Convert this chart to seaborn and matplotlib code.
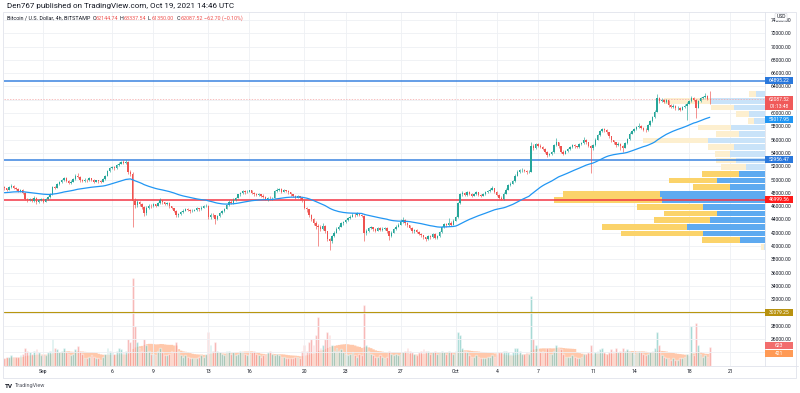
import numpy as np
import pandas as pd
import seaborn as sns
import matplotlib.pyplot as plt
from matplotlib.patches import Rectangle

# BTC/USD 4h candles (Bitstamp), Aug 29 04:00 -> Oct 19 12:00
first_open = 48900
closes = [
    48700, 48500, 48900, 49100, 48800,                    # Aug 29
    48600, 48300, 48500, 48000, 47100, 46950,             # Aug 30
    47100, 46800, 47300, 46600, 46900, 47100,             # Aug 31
    46700, 47100, 47400, 47800, 48900, 48800,             # Sep 1
    49300, 49700, 49900, 50300, 49800, 49500,
    49700, 50100, 50600, 50400, 49900, 49800,
    50000, 49900, 50200, 50000, 49700, 49900,
    49800, 49700, 50100, 50600, 51300, 51800,             # Sep 5
    51900, 51700, 52200, 52400, 52600, 52500,
    52700, 51200, 50900, 46800, 46200, 46600,             # Sep 7
    46300, 45900, 44900, 45800, 46100, 46000,
    46300, 46100, 46500, 46900, 46600, 46400,
    46500, 46000, 45700, 45300, 44600, 44800,             # Sep 10
    45100, 45300, 45600, 45400, 45200, 45300,
    45400, 45700, 45500, 45800, 46000, 46100,
    44300, 44700, 44600, 44000, 44500, 44900,             # Sep 13
    45200, 45600, 46200, 46700, 46500, 47000,
    47300, 47800, 48000, 48300, 48100, 48200,             # Sep 15
    48400, 48000, 47800, 47700, 47800, 47600,
    47400, 47100, 47300, 47200, 47300, 48300,
    48500, 48600, 48200, 48400, 48300, 48100,
    47800, 47600, 47300, 47500, 47250, 46900,
    45700, 45500, 44600, 44000, 43500, 43000,             # Sep 20
    42800, 42600, 43000, 42200, 41000, 40700,
    41500, 42000, 42600, 42900, 43400, 43600,
    43900, 44200, 44400, 44700, 44600, 44900,
    44700, 44500, 41900, 42300, 42700, 42800,             # Sep 24
    42500, 42300, 42700, 42400, 42600, 42700,
    42200, 41500, 42000, 42500, 42900, 43200,
    43600, 43900, 43400, 43100, 42700, 42200,
    42400, 42100, 41800, 41600, 41300, 41000,
    41500, 41300, 41800, 41200, 41500, 42100,
    42800, 43300, 43100, 43500, 43200, 43800,             # Sep 30
    44300, 46500, 47800, 48000, 47700, 48100,             # Oct 1
    47900, 47600, 47800, 48100, 47700, 47600,
    47800, 48100, 48300, 48500, 48700, 48200,
    47700, 47300, 47100, 47900, 48500, 49200,
    49400, 49800, 50600, 51200, 51400, 51500,             # Oct 5
    51300, 51100, 51200, 55000, 54700, 55300,
    55100, 54900, 54600, 54200, 53700, 53800,
    54100, 55200, 55600, 55000, 54200, 53900,
    54300, 54600, 54900, 55200, 55000, 54900,
    55300, 55500, 56000, 55600, 55100, 54700,             # Oct 10
    55200, 56000, 56700, 57300, 57600, 57400,
    57100, 56500, 55900, 55600, 55200, 55400,
    55100, 54800, 55500, 56100, 56900, 57300,
    57600, 57900, 58100, 57800, 57500, 57400,
    58200, 58800, 59400, 60200, 62300, 61800,             # Oct 15
    62000, 61700, 61900, 61200, 60900, 61100,
    60700, 60800, 60500, 60900, 61100, 61400,
    61800, 62300, 62000, 60800, 61800, 62200,
    62400, 62500, 62144.74, 62087.52,                      # Oct 19
]
highs = [
    49000, 48800, 49050, 49300, 49200,
    48950, 48700, 48650, 48600, 48100, 47300,
    47300, 47200, 47500, 47400, 47100, 47300,
    47200, 47200, 47600, 48000, 49000, 49100,
    49500, 49800, 50100, 50450, 50400, 49900,
    49900, 50300, 50800, 51000, 50500, 50100,
    50200, 50100, 50400, 50300, 50100, 50000,
    50000, 49900, 50200, 50700, 51500, 51900,
    52100, 52000, 52400, 52600, 52800, 52900,
    52900, 52800, 51400, 51100, 47300, 46900,
    46800, 46500, 46100, 46000, 46300, 46300,
    46500, 46400, 46700, 47300, 47000, 46700,
    46700, 46600, 46100, 45800, 45400, 45000,
    45300, 45500, 45800, 45700, 45500, 45500,
    45600, 45900, 45800, 46000, 46200, 46400,
    46200, 44900, 44900, 44700, 44700, 45100,
    45400, 45800, 46400, 46900, 46900, 47200,
    47400, 47900, 48200, 48500, 48400, 48400,
    48500, 48500, 48200, 48000, 48000, 47900,
    47800, 47500, 47400, 47500, 47400, 48400,
    48700, 48800, 48700, 48600, 48500, 48400,
    48200, 47900, 47700, 47700, 47600, 47300,
    47000, 45900, 45600, 44800, 44200, 43700,
    43300, 43100, 43400, 43100, 42300, 41200,
    41700, 42200, 42800, 43100, 43600, 43800,
    44100, 44400, 44600, 44900, 44900, 45100,
    45000, 44800, 44600, 42600, 42900, 43000,
    42900, 42700, 42900, 42800, 42800, 42900,
    42800, 42300, 42200, 42700, 43100, 43400,
    44000, 44300, 44000, 43600, 43200, 42800,
    42600, 42500, 42200, 42000, 41700, 41400,
    41700, 41600, 42000, 41900, 41700, 42300,
    43000, 43500, 43500, 44200, 43700, 44000,
    44500, 46700, 48000, 48300, 48200, 48300,
    48300, 48000, 48000, 48300, 48200, 47900,
    48000, 48300, 48500, 48700, 49100, 48800,
    48300, 47800, 47500, 48100, 48700, 49400,
    49600, 50000, 50800, 51400, 51600, 51700,
    51600, 51400, 51400, 55700, 55300, 55500,
    55500, 55300, 55000, 54700, 54300, 54000,
    54300, 55400, 56200, 55700, 55100, 54400,
    54500, 54800, 55100, 55400, 55300, 55100,
    55500, 55700, 56400, 56100, 55700, 55200,
    55400, 56200, 56900, 57500, 57800, 57700,
    57600, 57200, 56600, 56000, 55700, 55600,
    55500, 55200, 55700, 56300, 57100, 57500,
    57800, 58100, 58500, 58200, 57900, 57700,
    58400, 59000, 59600, 60400, 62850, 62400,
    62300, 62100, 62100, 62000, 61400, 61300,
    61200, 61000, 60900, 61100, 61300, 61600,
    62000, 62500, 62400, 62100, 62000, 62400,
    62600, 62970, 62700, 63337.54,
]
lows = [
    48500, 48300, 48400, 48800, 48650,
    48450, 48100, 48200, 47900, 46900, 46700,
    46800, 46600, 46700, 46400, 46500, 46800,
    46500, 46600, 47000, 47300, 47700, 48600,
    48700, 49200, 49500, 49800, 49600, 49300,
    49400, 49600, 50000, 50200, 49700, 49600,
    49700, 49700, 49800, 49800, 49500, 49600,
    49500, 49500, 49600, 50000, 50500, 51200,
    51600, 51500, 51600, 52100, 52300, 52300,
    52300, 50900, 50500, 42800, 45800, 45900,
    46000, 45600, 44500, 44700, 45600, 45800,
    45900, 45900, 46000, 46400, 46400, 46200,
    46200, 45800, 45500, 45100, 44300, 44400,
    44600, 45000, 45200, 45200, 45000, 45100,
    45200, 45300, 45300, 45400, 45700, 45900,
    44000, 44100, 44300, 43300, 43900, 44400,
    44800, 45100, 45500, 46100, 46300, 46400,
    46800, 47200, 47600, 47900, 47900, 48000,
    48100, 47900, 47600, 47500, 47500, 47400,
    47200, 46900, 46800, 47000, 47000, 47200,
    48200, 48300, 48000, 48100, 48100, 47900,
    47600, 47400, 47100, 47200, 47000, 46700,
    45500, 45100, 44300, 43700, 43100, 42600,
    40000, 42300, 42400, 41900, 40700, 39400,
    40500, 41300, 41900, 42400, 42800, 43200,
    43500, 43800, 44000, 44300, 44400, 44500,
    44500, 44300, 40700, 41600, 42100, 42500,
    42300, 42100, 42200, 42200, 42300, 42400,
    42000, 40900, 41300, 41900, 42400, 42800,
    43100, 43500, 43200, 42900, 42500, 42000,
    42000, 41900, 41600, 41400, 41100, 40800,
    40900, 41100, 41200, 41000, 41100, 41400,
    42000, 42700, 42900, 43000, 43000, 43100,
    43700, 44200, 46400, 47600, 47500, 47600,
    47700, 47400, 47500, 47700, 47500, 47400,
    47500, 47700, 48000, 48200, 48400, 48000,
    47500, 47100, 46900, 47000, 47800, 48400,
    49100, 49300, 49700, 50500, 51000, 51200,
    51100, 50900, 51000, 51100, 54400, 54600,
    54900, 54700, 54400, 54000, 53400, 53500,
    53700, 54000, 55100, 54800, 54000, 53700,
    53800, 54200, 54500, 54800, 54800, 54700,
    54800, 55200, 55400, 55400, 54900, 50950,
    54500, 55100, 55900, 56600, 57200, 57200,
    56900, 56300, 55700, 55300, 54900, 55000,
    54500, 54200, 54700, 55400, 56000, 56800,
    57200, 57500, 57800, 57600, 57300, 57200,
    57300, 58100, 58700, 59300, 60100, 61500,
    61700, 61500, 61500, 60900, 60700, 60800,
    60500, 60500, 60300, 60400, 60700, 58950,
    61300, 61700, 61800, 59200, 60700, 61700,
    62100, 62300, 62000, 61350,
]
volumes = [
    250, 300, 280, 350, 300,
    300, 280, 350, 400, 600, 500,
    450, 400, 500, 550, 450, 350,
    400, 350, 450, 500, 900, 600,
    550, 450, 500, 600, 450, 400,
    350, 400, 550, 650, 500, 400,
    250, 250, 300, 350, 300, 250,
    250, 200, 300, 400, 600, 500,
    450, 400, 500, 600, 550, 450,
    500, 900, 800, 2900, 1300, 800,
    600, 500, 900, 700, 500, 400,
    400, 350, 500, 600, 450, 350,
    350, 400, 500, 450, 800, 500,
    350, 300, 350, 300, 250, 250,
    250, 250, 300, 350, 300, 400,
    1100, 700, 500, 800, 500, 450,
    400, 350, 500, 500, 400, 450,
    350, 400, 500, 450, 400, 350,
    400, 450, 500, 400, 350, 300,
    350, 400, 450, 500, 400, 350,
    400, 350, 300, 300, 250, 250,
    250, 250, 300, 300, 250, 500,
    700, 500, 800, 900, 700, 1000,
    1600, 600, 700, 900, 1100, 1000,
    700, 500, 600, 500, 550, 450,
    400, 350, 400, 450, 350, 300,
    400, 350, 2000, 700, 500, 400,
    350, 300, 300, 350, 300, 250,
    300, 500, 400, 350, 400, 350,
    400, 450, 500, 600, 500, 450,
    400, 350, 450, 500, 550, 500,
    500, 400, 450, 500, 400, 450,
    500, 450, 400, 500, 450, 400,
    500, 1100, 1000, 600, 500, 450,
    350, 300, 300, 350, 300, 250,
    250, 250, 300, 300, 350, 300,
    400, 450, 450, 500, 500, 450,
    400, 450, 600, 600, 500, 400,
    400, 450, 400, 2300, 900, 700,
    500, 450, 500, 450, 600, 400,
    400, 500, 700, 600, 550, 400,
    300, 300, 300, 350, 300, 250,
    250, 300, 400, 400, 450, 700,
    400, 450, 500, 550, 600, 450,
    400, 450, 550, 500, 600, 450,
    500, 600, 500, 550, 500, 450,
    400, 450, 500, 450, 400, 350,
    400, 450, 500, 600, 1100, 700,
    350, 300, 250, 250, 200, 250,
    200, 200, 250, 250, 300, 400,
    350, 1300, 350, 1400, 700, 400,
    300, 350, 300, 623,
]

# date axis: candle index of each labelled day
day_ticks = [17, 47, 65, 89, 107, 131, 149, 173, 197, 215, 233, 257, 275, 299, 317]
day_labels = ['Sep', '6', '9', '13', '16', '20', '23', '27', 'Oct', '4', '7', '11', '14', '18', '21']

# drawn levels and right-hand labels
blue_levels = [64895.22, 52956.47]
red_level = 46999.56
gold_level = 30079.25
ema_label = 59017.95
ema_start = 48000      # moving average value at the left edge of the chart
vol_label = 623
vol_ma_label = 421
countdown = '01:13:48'
price_ticks = list(range(24000, 76000, 2000))

# visible range volume profile, 24 rows from bottom to top (relative volume)
vp_down = [3, 38, 82, 85, 56, 53, 66, 108, 97, 37, 48, 37,
           25, 20, 15, 26, 65, 23, 33, 6, 13, 23, 47, 7]
vp_up = [1, 25, 62, 78, 55, 48, 62, 103, 105, 35, 48, 26,
         19, 29, 35, 31, 57, 26, 34, 11, 16, 31, 54, 9]
value_area = range(1, 12)

UP, DOWN = '#26a69a', '#ef5350'
TXT = '#131722'
FS = 3.6

# figure geometry (pixels)
W, H = 800, 393
AX_L, AX_R, AX_T, AX_B = 4, 765, 12, 366
PX_PER_BAR = 2.29
Y_TOP, Y_BOT = 75204, 21962


def price_px(p):
    return AX_T + (Y_TOP - p) / (Y_TOP - Y_BOT) * (AX_B - AX_T)


def ema(values, length, start):
    a = 2 / (length + 1)
    out, cur = [], start
    for v in values:
        cur = cur + a * (v - cur)
        out.append(cur)
    return out


def label_box(fig, ypx, lines, color, height=7.0):
    # coloured tag on the price scale, drawn in pixel units
    fig.add_artist(Rectangle((AX_R / W, 1 - (ypx + height / 2) / H), 28 / W, height / H,
                             transform=fig.transFigure, facecolor=color,
                             edgecolor='none', zorder=20))
    top = ypx - height / 2
    for i, t in enumerate(lines):
        fig.text((AX_R + 14) / W, 1 - (top + 3.5 + 7 * i) / H, t,
                 ha='center', va='center', fontsize=FS, color='white', zorder=21)


def main():
    sns.set_theme(style='white')
    plt.rcParams['font.family'] = ['Roboto', 'DejaVu Sans']

    df = pd.DataFrame({'close': closes, 'high': highs, 'low': lows, 'volume': volumes})
    df['open'] = [first_open] + closes[:-1]
    df['idx'] = np.arange(len(df))
    df['up'] = df['close'] >= df['open']
    df['ema'] = ema(closes, 50, ema_start)
    df['vol_ma'] = df['volume'].rolling(20, min_periods=1).mean()

    fig = plt.figure(figsize=(W / 100, H / 100), dpi=100)
    fig.patch.set_facecolor('white')
    rect = [AX_L / W, 1 - AX_B / H, (AX_R - AX_L) / W, (AX_B - AX_T) / H]
    ax_vol = fig.add_axes(rect)
    ax = fig.add_axes(rect)
    ax.patch.set_visible(False)

    x0 = -0.4 / PX_PER_BAR
    x1 = x0 + (AX_R - AX_L) / PX_PER_BAR
    for a in (ax, ax_vol):
        a.set_xlim(x0, x1)
        for s in a.spines.values():
            s.set_visible(False)
    ax.set_ylim(Y_BOT, Y_TOP)
    ax_vol.set_ylim(0, 11600)
    ax_vol.set_xticks([])
    ax_vol.set_yticks([])

    # grid
    for p in price_ticks:
        ax.axhline(p, color='#eef0f4', lw=0.6, zorder=0)
    for t in day_ticks:
        ax.axvline(t, color='#eef0f4', lw=0.6, zorder=0)

    # volume bars + volume MA area
    vcol = np.where(df['up'], UP, DOWN)
    ax_vol.fill_between(df['idx'], 0, df['vol_ma'], color='#ff9c66', alpha=0.55,
                        step='mid', lw=0, zorder=1)
    ax_vol.bar(df['idx'], df['volume'], width=0.8, color=vcol, alpha=0.5, zorder=2)

    # volume profile
    lo, hi = min(lows), max(highs)
    row = (hi - lo) / len(vp_up)
    centers = lo + row * (np.arange(len(vp_up)) + 0.5)
    for k, (c, d, u) in enumerate(zip(centers, vp_down, vp_up)):
        inside = k in value_area
        cu = '#5eaaf0' if inside else '#c9e3f9'
        cd = '#fbd36a' if inside else '#fdefcf'
        wu, wd = u / PX_PER_BAR, d / PX_PER_BAR
        ax.barh(c, wu, left=x1 - wu, height=row * 0.86, color=cu, zorder=1, lw=0)
        ax.barh(c, wd, left=x1 - wu - wd, height=row * 0.86, color=cd, zorder=1, lw=0)

    # levels
    for lv in blue_levels:
        ax.axhline(lv, color='#3a84e0', lw=1.1, zorder=3)
    ax.axhline(red_level, color='#f23645', lw=1.1, zorder=3)
    ax.axhline(gold_level, color='#b8960f', lw=0.8, zorder=3)
    ax.axhline(closes[-1], color='#f4a6a6', lw=0.5, ls=(0, (2, 2)), zorder=3)

    # candles
    col = np.where(df['up'], UP, DOWN)
    ax.vlines(df['idx'], df['low'], df['high'], colors=col, lw=0.45, zorder=4)
    body_lo = np.minimum(df['open'], df['close'])
    body_h = np.maximum((df['close'] - df['open']).abs(), 60)
    ax.bar(df['idx'], body_h, bottom=body_lo, width=0.62, color=col, lw=0, zorder=5)

    # moving average
    sns.lineplot(x='idx', y='ema', data=df, ax=ax, color='#2196f3', lw=0.9, zorder=6)
    ax.set_xlabel('')
    ax.set_ylabel('')

    # price scale: labels hidden where a tag sits on top of them
    covered = [closes[-1], gold_level, 24000]
    shown = ['' if any(abs(price_px(v) - price_px(c)) < 3 for c in covered) else f'{v:.2f}'
             for v in price_ticks]
    ax.yaxis.tick_right()
    ax.set_yticks(price_ticks)
    ax.set_yticklabels(shown)
    ax.tick_params(axis='y', length=0, pad=4.3, labelsize=FS, labelcolor=TXT)
    ax.set_xticks(day_ticks)
    ax.set_xticklabels(day_labels)
    ax.tick_params(axis='x', length=0, pad=2.0, labelsize=FS, labelcolor=TXT)

    # borders
    ax.plot([1, 1], [0, 1], transform=ax.transAxes, color='#e0e3eb', lw=0.6, clip_on=False)
    ax.plot([0, 1.043], [0, 0], transform=ax.transAxes, color='#e0e3eb', lw=0.6, clip_on=False)
    fig.add_artist(Rectangle((3 / W, 1 - 378 / H), 793 / W, 366 / H, transform=fig.transFigure,
                             fill=False, edgecolor='#e0e3eb', lw=0.6))

    # right-hand tags
    label_box(fig, price_px(blue_levels[0]), [f'{blue_levels[0]:.2f}'], '#2a78dc')
    label_box(fig, price_px(blue_levels[1]), [f'{blue_levels[1]:.2f}'], '#2a78dc')
    label_box(fig, price_px(ema_label), [f'{ema_label:.2f}'], '#2196f3')
    label_box(fig, price_px(red_level), [f'{red_level:.2f}'], '#ff1a1a')
    label_box(fig, price_px(gold_level), [f'{gold_level:.2f}'], '#b8920f')
    label_box(fig, price_px(closes[-1]) + 3.5, [f'{closes[-1]:.2f}', countdown], '#f05a5a',
              height=14)
    label_box(fig, 345.5, [str(vol_label)], '#f26d6d')
    label_box(fig, 353.8, [str(vol_ma_label)], '#ff9a55')
    fig.text(781 / W, 1 - 17 / H, 'USD', fontsize=FS, color=TXT, ha='center', va='center',
             bbox=dict(boxstyle='round,pad=0.25', fc='white', ec='#d1d4dc', lw=0.4), zorder=30)

    # header
    fig.text(7 / W, 1 - 6 / H, 'Den767 published on TradingView.com, Oct 19, 2021 14:46 UTC',
             fontsize=5.8, color=TXT, va='center')
    yh = 1 - 18.3 / H
    fig.text(7.3 / W, yh, 'Bitcoin / U.S. Dollar, 4h, BITSTAMP', fontsize=3.85, color=TXT,
             va='center')
    parts = [(92.7, 'O', f'{closes[-2]:.2f}'), (120, 'H', f'{highs[-1]:.2f}'),
             (148, 'L', f'{lows[-1]:.2f}'), (177, 'C', f'{closes[-1]:.2f}')]
    for xp, letter, val in parts:
        fig.text(xp / W, yh, letter, fontsize=3.85, color=TXT, va='center')
        fig.text((xp + 3.3) / W, yh, val, fontsize=3.85, color=DOWN, va='center')
    fig.text(204 / W, yh, '\u221262.70 (\u22120.10%)', fontsize=3.85, color=DOWN, va='center')

    # footer logo
    fig.text(5 / W, 1 - 386 / H, 'TV', fontsize=4.6, color=TXT, weight='bold', va='center')
    fig.text(15 / W, 1 - 386 / H, 'TradingView', fontsize=4.0, color='#50535e', va='center')

    fig.savefig('out.png', dpi=100, facecolor='white')
    plt.close(fig)


if __name__ == '__main__':
    main()
